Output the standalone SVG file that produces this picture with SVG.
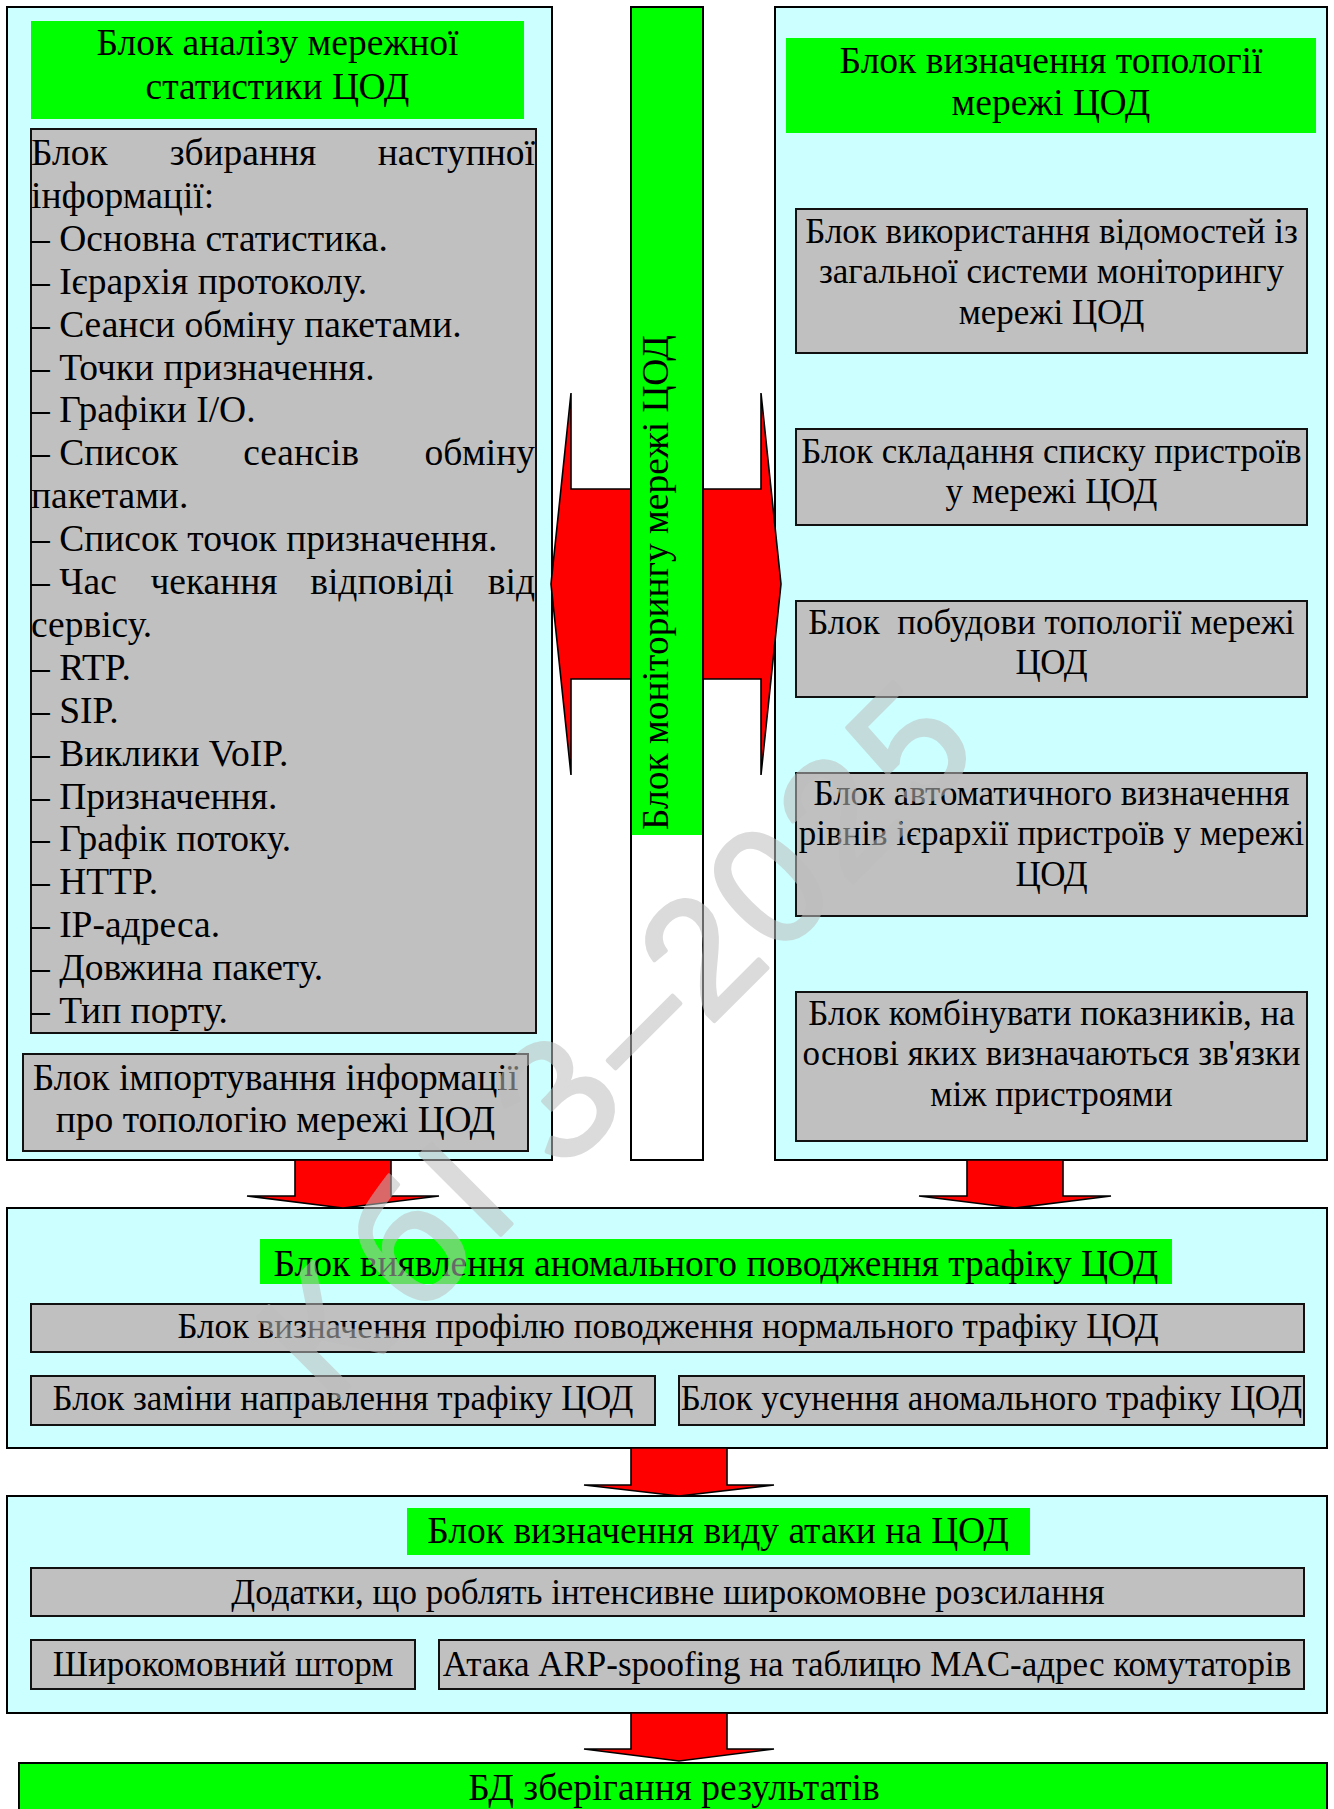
<svg xmlns="http://www.w3.org/2000/svg" width="1334" height="1809" viewBox="0 0 1334 1809">
<style>
.c{fill:#ccffff;stroke:#000;stroke-width:2}
.g{fill:#c0c0c0;stroke:#111;stroke-width:2}
.gr{fill:#00ff00}
.ar{fill:#ff0000;stroke:#000;stroke-width:1.6;stroke-linejoin:miter}
text{font-family:"Liberation Serif","Times New Roman",serif;fill:#000;font-size:37.5px}
.s{font-size:35px}
.m{text-anchor:middle}
.e{text-anchor:end}
.wm{font-family:"Liberation Sans",Arial,sans-serif;font-size:165px;fill:#bebebe;stroke:#bebebe;stroke-width:4;stroke-linejoin:round;text-anchor:middle}
</style>
<rect width="1334" height="1809" fill="#fff"/>

<g id="stats-block">
<rect class="c" x="7" y="7" width="545" height="1153"/>
<rect class="gr" x="31" y="21" width="493" height="98"/>
<text class="m" x="277.5" y="55">Блок аналізу мережної</text>
<text class="m" x="277.5" y="99">статистики ЦОД</text>
</g>

<g id="collect-block">
<rect class="g" x="31" y="129" width="505" height="904"/>
<text x="31" y="165">Блок</text>
<text class="m" x="243" y="165">збирання</text>
<text class="e" x="535" y="165">наступної</text>
<text x="31" y="207.9">інформації:</text>
<text x="31" y="250.8">– Основна статистика.</text>
<text x="31" y="293.7">– Ієрархія протоколу.</text>
<text x="31" y="336.6">– Сеанси обміну пакетами.</text>
<text x="31" y="379.5">– Точки призначення.</text>
<text x="31" y="422.4">– Графіки I/O.</text>
<text x="31" y="465.3">– Список</text>
<text class="m" x="301" y="465.3">сеансів</text>
<text class="e" x="535" y="465.3">обміну</text>
<text x="31" y="508.2">пакетами.</text>
<text x="31" y="551.1">– Список точок призначення.</text>
<text x="31" y="594">– Час</text>
<text class="m" x="214" y="594">чекання</text>
<text class="m" x="382" y="594">відповіді</text>
<text class="e" x="535" y="594">від</text>
<text x="31" y="636.9">сервісу.</text>
<text x="31" y="679.8">– RTP.</text>
<text x="31" y="722.7">– SIP.</text>
<text x="31" y="765.6">– Виклики VoIP.</text>
<text x="31" y="808.5">– Призначення.</text>
<text x="31" y="851.4">– Графік потоку.</text>
<text x="31" y="894.3">– HTTP.</text>
<text x="31" y="937.2">– IP-адреса.</text>
<text x="31" y="980.1">– Довжина пакету.</text>
<text x="31" y="1023">– Тип порту.</text>
</g>

<g id="import-block">
<rect class="g" x="23" y="1054" width="505" height="97"/>
<text class="m" x="275.5" y="1090">Блок імпортування інформації</text>
<text class="m" x="275.5" y="1132">про топологію мережі ЦОД</text>
</g>

<g id="topology-block">
<rect class="c" x="775" y="7" width="552" height="1153"/>
<rect class="gr" x="786" y="38" width="530" height="95"/>
<text class="m" x="1051" y="73">Блок визначення топології</text>
<text class="m" x="1051" y="115">мережі ЦОД</text>
</g>

<g id="topo-1">
<rect class="g" x="796" y="209" width="511" height="144"/>
<text class="m s" x="1051.5" y="243">Блок використання відомостей із</text>
<text class="m s" x="1051.5" y="283">загальної системи моніторингу</text>
<text class="m s" x="1051.5" y="324">мережі ЦОД</text>
</g>
<g id="topo-2">
<rect class="g" x="796" y="429" width="511" height="96"/>
<text class="m s" x="1051.5" y="463">Блок складання списку пристроїв</text>
<text class="m s" x="1051.5" y="503">у мережі ЦОД</text>
</g>
<g id="topo-3">
<rect class="g" x="796" y="601" width="511" height="96"/>
<text class="m s" x="1051.5" y="634" xml:space="preserve">Блок  побудови топології мережі</text>
<text class="m s" x="1051.5" y="674">ЦОД</text>
</g>
<g id="topo-4">
<rect class="g" x="796" y="773" width="511" height="143"/>
<text class="m s" x="1051.5" y="805">Блок автоматичного визначення</text>
<text class="m s" x="1051.5" y="845">рівнів ієрархії пристроїв у мережі</text>
<text class="m s" x="1051.5" y="886">ЦОД</text>
</g>
<g id="topo-5">
<rect class="g" x="796" y="992" width="511" height="149"/>
<text class="m s" x="1051.5" y="1025">Блок комбінувати показників, на</text>
<text class="m s" x="1051.5" y="1065">основі яких визначаються зв'язки</text>
<text class="m s" x="1051.5" y="1106">між пристроями</text>
</g>

<g id="anomaly-block">
<rect class="c" x="7" y="1208" width="1320" height="240"/>
<rect class="gr" x="260" y="1239" width="912" height="45"/>
<text class="m" x="716" y="1276">Блок виявлення аномального поводження трафіку ЦОД</text>
</g>
<g id="anomaly-1">
<rect class="g" x="31" y="1304" width="1273" height="48"/>
<text class="m s" x="668" y="1338">Блок визначення профілю поводження нормального трафіку ЦОД</text>
</g>
<g id="anomaly-2">
<rect class="g" x="31" y="1376" width="624" height="49"/>
<text class="m s" x="343" y="1410">Блок заміни направлення трафіку ЦОД</text>
</g>
<g id="anomaly-3">
<rect class="g" x="679" y="1376" width="625" height="49"/>
<text class="m s" x="991.5" y="1410">Блок усунення аномального трафіку ЦОД</text>
</g>

<g id="attack-block">
<rect class="c" x="7" y="1496" width="1320" height="217"/>
<rect class="gr" x="407" y="1508" width="623" height="47"/>
<text class="m" x="718" y="1543">Блок визначення виду атаки на ЦОД</text>
</g>
<g id="attack-1">
<rect class="g" x="31" y="1568" width="1273" height="48"/>
<text class="m s" x="668" y="1604">Додатки, що роблять інтенсивне широкомовне розсилання</text>
</g>
<g id="attack-2">
<rect class="g" x="31" y="1640" width="384" height="49"/>
<text class="m s" x="223" y="1676">Широкомовний шторм</text>
</g>
<g id="attack-3">
<rect class="g" x="439" y="1640" width="865" height="49"/>
<text class="m s" x="867" y="1676">Атака ARP-spoofing на таблицю MAC-адрес комутаторів</text>
</g>

<g id="db-block">
<rect x="19" y="1763" width="1308" height="60" fill="#00ff00" stroke="#000" stroke-width="2"/>
<text class="m" x="674" y="1800">БД зберігання результатів</text>
</g>

<g id="connectors">
<polygon class="ar" points="551,584 571,393 571,489 761,489 761,393 781,584 761,775 761,679 571,679 571,775"/>
<polygon class="ar" points="295,1160 391,1160 391,1196 439,1196 343,1208 247,1196 295,1196"/>
<polygon class="ar" points="967,1160 1063,1160 1063,1196 1111,1196 1015,1208 919,1196 967,1196"/>
<polygon class="ar" points="631,1448 727,1448 727,1485 774,1485 679,1496 584,1485 631,1485"/>
<polygon class="ar" points="631,1713 727,1713 727,1749 774,1749 679,1761 584,1749 631,1749"/>
</g>

<g id="monitoring-block">
<rect x="631" y="7" width="72" height="1153" fill="#fff"/>
<rect class="gr" x="631" y="7" width="72" height="828"/>
<rect x="631" y="7" width="72" height="1153" fill="none" stroke="#000" stroke-width="2"/>
<text transform="translate(668,830) rotate(-90)" x="0" y="0">Блок моніторингу мережі ЦОД</text>
</g>

<g id="watermark" opacity="0.55">
<text class="wm" transform="translate(555,1097) rotate(-45)" x="-331 -209 -128 0 55 109 155 204 300 400 500" y="59">КбІЗ – 2025</text>
</g>
</svg>
